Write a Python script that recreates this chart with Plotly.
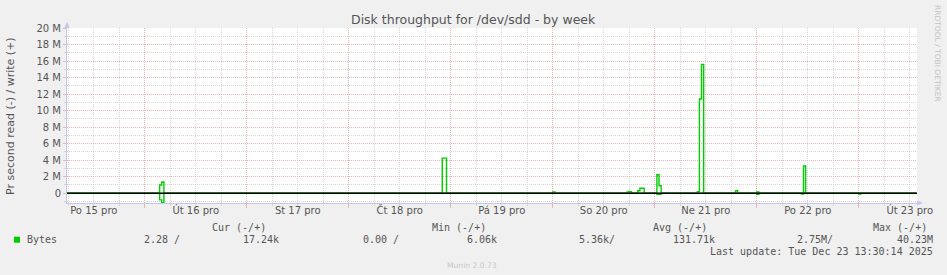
import plotly.graph_objects as go

# ---------------- data ----------------
write_times = ["2025-12-15 05:00", "2025-12-16 03:30", "2025-12-16 04:00", "2025-12-16 04:30",
               "2025-12-18 22:00", "2025-12-18 22:30", "2025-12-18 23:00",
               "2025-12-20 00:00", "2025-12-20 00:30",
               "2025-12-20 17:30", "2025-12-20 18:00", "2025-12-20 18:30",
               "2025-12-20 20:00", "2025-12-20 20:30", "2025-12-20 21:00", "2025-12-20 21:30",
               "2025-12-21 00:30", "2025-12-21 01:00", "2025-12-21 01:30",
               "2025-12-21 10:00", "2025-12-21 10:30", "2025-12-21 11:00", "2025-12-21 11:30",
               "2025-12-21 19:00", "2025-12-21 19:30",
               "2025-12-22 00:00", "2025-12-22 00:30",
               "2025-12-22 11:00", "2025-12-22 11:30",
               "2025-12-23 13:30"]
write_bytes = [0, 1.0e6, 1.37e6, 0,
               4.25e6, 4.25e6, 0,
               0.15e6, 0,
               0.15e6, 0.2e6, 0,
               0.3e6, 0.6e6, 0.6e6, 0,
               2.23e6, 0.9e6, 0,
               0.2e6, 11.4e6, 15.6e6, 0,
               0.3e6, 0,
               0.15e6, 0,
               3.3e6, 0,
               0]

read_times = ["2025-12-15 05:00", "2025-12-16 03:30", "2025-12-16 04:00", "2025-12-16 04:30",
              "2025-12-21 00:30", "2025-12-21 01:00", "2025-12-21 01:30",
              "2025-12-22 00:00", "2025-12-22 00:30",
              "2025-12-22 10:30", "2025-12-22 11:00",
              "2025-12-23 00:00", "2025-12-23 00:30",
              "2025-12-23 13:30"]
read_bytes = [0, 0.8e6, 1.18e6, 0,
              0.12e6, 0.12e6, 0,
              0.12e6, 0,
              0.1e6, 0,
              0.1e6, 0,
              0]

x_range = ["2025-12-15 05:42", "2025-12-23 13:42"]
y_range = [-1.18e6, 20e6]

day_label_times = ["2025-12-15 12:00", "2025-12-16 12:00", "2025-12-17 12:00", "2025-12-18 12:00",
                   "2025-12-19 12:00", "2025-12-20 12:00", "2025-12-21 12:00", "2025-12-22 12:00",
                   "2025-12-23 12:00"]
day_labels = ["Po 15 pro", "Út 16 pro", "St 17 pro", "Čt 18 pro", "Pá 19 pro",
              "So 20 pro", "Ne 21 pro", "Po 22 pro", "Út 23 pro"]

y_tick_vals = [0, 2e6, 4e6, 6e6, 8e6, 10e6, 12e6, 14e6, 16e6, 18e6, 20e6]
y_tick_text = ["0", "2 M", "4 M", "6 M", "8 M", "10 M", "12 M", "14 M", "16 M", "18 M", "20 M"]

series_name = "Bytes"
legend_headers = ["Cur (-/+)", "Min (-/+)", "Avg (-/+)", "Max (-/+)"]
legend_values = ["2.28 /", "17.24k", "0.00 /", "6.06k", "5.36k/", "131.71k", "2.75M/", "40.23M"]
last_update = "Last update: Tue Dec 23 13:30:14 2025"

GREEN = "#00CC00"
TEXT = "#555555"
MAJOR = "#ecb4b4"
MINOR = "#d6d6d6"
AXIS = "#c4c4ec"

# ---------------- layout geometry (pixels) ----------------
W_FIG, H_FIG = 947, 275
L, R, T, B = 67, 917, 28, 203
PW, PH = R - L, B - T


def px(x):
    return (x - L) / PW


def py(y):
    return (B - y) / PH


def ann(text, x, y, size, color=TEXT, family="DejaVu Sans", xanchor="left", angle=0):
    return dict(text=text, x=px(x), y=py(y), xref="paper", yref="paper", showarrow=False,
                xanchor=xanchor, yanchor="middle", borderpad=0, textangle=angle,
                font=dict(family=family, size=size, color=color))


fig = go.Figure()
fig.add_trace(go.Scatter(x=read_times, y=[-v for v in read_bytes], mode="lines",
                         line=dict(color=GREEN, width=1.4, shape="hv"),
                         xaxis="x2", yaxis="y", showlegend=False, hoverinfo="skip"))
fig.add_trace(go.Scatter(x=write_times, y=write_bytes, mode="lines",
                         line=dict(color=GREEN, width=1.4, shape="hv"),
                         xaxis="x", yaxis="y", showlegend=False, hoverinfo="skip"))

MONO = "DejaVu Sans Mono"
annotations = [
    ann("Disk throughput for /dev/sdd - by week", 473.5, 19.5, 12.5, xanchor="center"),
    ann("Pr second read (-) / write (+)", 10.5, 116.5, 11, xanchor="center", angle=-90),
    ann("RRDTOOL / TOBI OETIKER", 937.5, 53.5, 7.5, color="#c4c4c4", xanchor="center", angle=90),
    ann("Munin 2.0.73", 472, 265, 7.6, color="#c8c8c8", xanchor="center"),
    ann(legend_headers[0], 210.5, 227.5, 10, family=MONO),
    ann(legend_headers[1], 431.2, 227.5, 10, family=MONO),
    ann(legend_headers[2], 651.8, 227.5, 10, family=MONO),
    ann(legend_headers[3], 872.2, 227.5, 10, family=MONO),
    ann(series_name, 26, 239.5, 10, family=MONO),
    ann(last_update, 933.5, 251.3, 10, family=MONO, xanchor="right"),
]
value_right_edges = [180.5, 280, 399.5, 498, 615.5, 716, 833.5, 933.5]
for txt, xr in zip(legend_values, value_right_edges):
    annotations.append(ann(txt, xr, 239.5, 10, family=MONO, xanchor="right"))

shapes = [
    # zero line (drawn above data like rrdtool)
    dict(type="line", xref="paper", yref="y", x0=0, x1=1, y0=0, y1=0,
         line=dict(color="#000000", width=1.3), layer="above"),
    # legend colour box
    dict(type="rect", xref="paper", yref="paper", x0=px(14), x1=px(20), y0=py(242.7), y1=py(236.7),
         fillcolor=GREEN, line=dict(width=0)),
    # axis arrow heads
    dict(type="path", xref="paper", yref="paper",
         path=f"M {px(64.5)},{py(28)} L {px(69.5)},{py(28)} L {px(67)},{py(21.5)} Z",
         fillcolor=AXIS, line=dict(width=0)),
    dict(type="path", xref="paper", yref="paper",
         path=f"M {px(917)},{py(200.5)} L {px(917)},{py(205.5)} L {px(923)},{py(203)} Z",
         fillcolor=AXIS, line=dict(width=0)),
]

fig.update_layout(
    width=W_FIG, height=H_FIG,
    margin=dict(l=L, r=W_FIG - R, t=T, b=H_FIG - B, pad=0),
    paper_bgcolor="#F0F0F0", plot_bgcolor="#FFFFFF",
    showlegend=False,
    xaxis=dict(type="date", range=x_range, tickmode="linear", tick0="2025-12-16",
               dtick=86400000, showticklabels=False,
               showgrid=True, gridcolor=MAJOR, gridwidth=1, griddash="1px,1px",
               ticks="outside", ticklen=4, tickcolor=MAJOR,
               showline=True, linecolor=AXIS, linewidth=1, zeroline=False,
               minor=dict(tick0="2025-12-16", dtick=6 * 3600000, showgrid=True,
                          gridcolor=MINOR, gridwidth=1, griddash="1px,1px",
                          ticks="outside", ticklen=2, tickcolor=MINOR)),
    xaxis2=dict(type="date", overlaying="x", matches="x", anchor="y", side="bottom",
                range=x_range, tickmode="array", tickvals=day_label_times, ticktext=day_labels,
                showgrid=False, ticks="", showline=False, zeroline=False,
                tickfont=dict(family="DejaVu Sans", size=10, color=TEXT)),
    yaxis=dict(range=y_range, tickmode="array", tickvals=y_tick_vals, ticktext=y_tick_text,
               showgrid=True, gridcolor=MAJOR, gridwidth=1, griddash="1px,1px",
               ticks="outside", ticklen=3, tickcolor=MAJOR,
               showline=True, linecolor=AXIS, linewidth=1, zeroline=False,
               tickfont=dict(family="DejaVu Sans", size=10, color=TEXT),
               minor=dict(tick0=0, dtick=1e6, showgrid=True, gridcolor=MINOR, gridwidth=1,
                          griddash="1px,1px", ticks="outside", ticklen=2, tickcolor=MINOR)),
    annotations=annotations,
    shapes=shapes,
)

fig.write_html("out.html")
